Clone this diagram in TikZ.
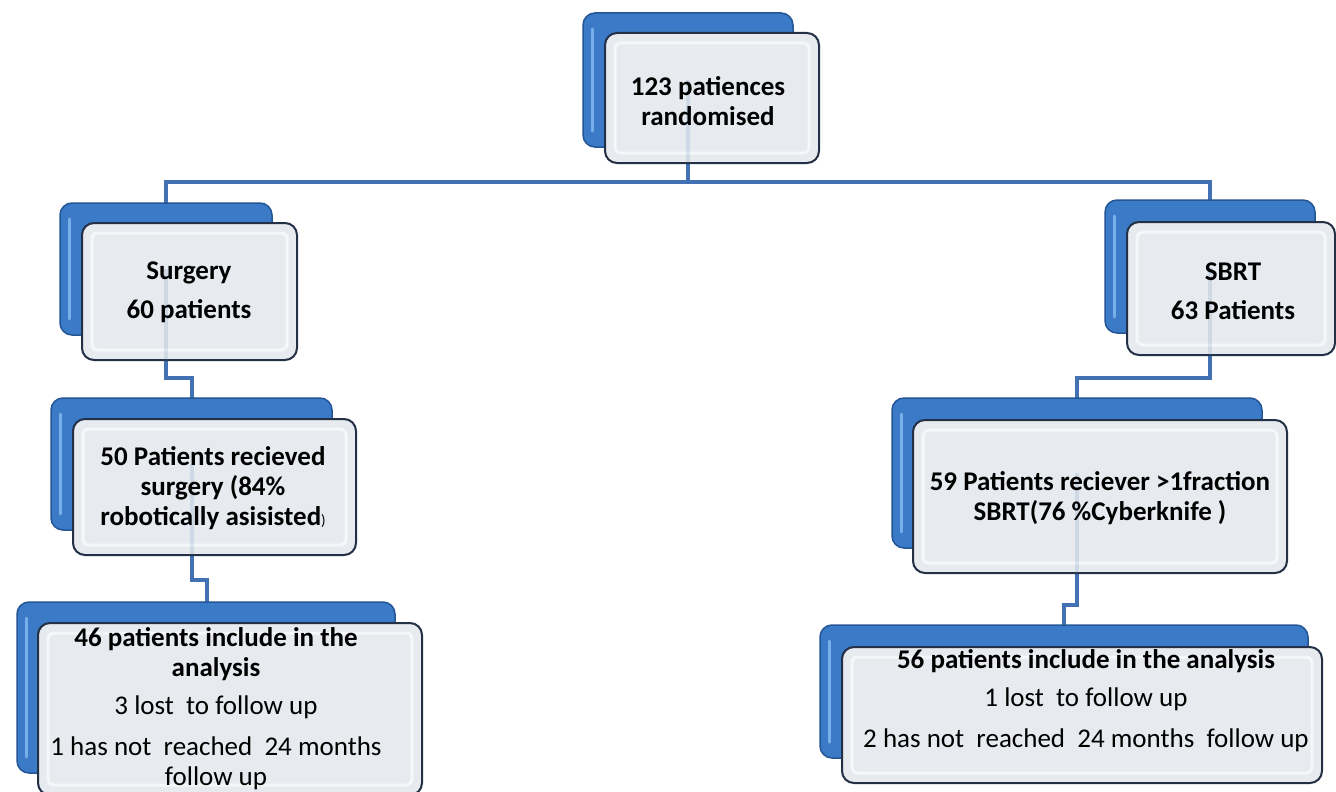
\documentclass[tikz,border=0pt]{standalone}
\usepackage{fontspec}
\setmainfont{Carlito}
\usetikzlibrary{calc}
\definecolor{bluefill}{RGB}{58,122,198}
\definecolor{blueedge}{RGB}{36,86,150}
\definecolor{bluelight}{RGB}{120,175,235}
\definecolor{frontfill}{RGB}{231,234,239}
\definecolor{frontedge}{RGB}{36,48,70}
\definecolor{bevel}{RGB}{246,247,249}
\definecolor{connclr}{RGB}{66,114,180}
\tikzset{
  backbox/.style={draw=blueedge, line width=1.5pt, fill=bluefill, rounded corners=12pt,
    inner sep=0pt,
    path picture={\draw[bluelight, line width=3pt, line cap=round]
      ([shift={(9pt,-16pt)}]path picture bounding box.north west) --
      ([shift={(9pt,16pt)}]path picture bounding box.south west);}},
  frontbox/.style={draw=frontedge, line width=2pt, fill=frontfill,
    rounded corners=12pt, inner sep=0pt,
    path picture={\draw[bevel, line width=3pt, rounded corners=6pt]
      ([shift={(10pt,-10pt)}]path picture bounding box.north west) rectangle
      ([shift={(-10pt,10pt)}]path picture bounding box.south east);}},
  conn/.style={connclr, line width=4pt},
  ghost/.style={conn, opacity=0.14},
  txt/.style={align=center, inner sep=0pt, text=black, font=\fontsize{27}{30}\selectfont},
  btxt/.style={txt, font=\fontsize{27}{30}\selectfont\bfseries},
}
\begin{document}
\begin{tikzpicture}[x=1pt, y=-1pt]
\useasboundingbox (0,0) rectangle (1336,792);
\fill[white] (0,0) rectangle (1336,792);

% junction coordinates
\coordinate (jTop) at (688,182);
\coordinate (jL1) at (192,378);
\coordinate (jL2) at (207,580);
\coordinate (jR1) at (1077,378);
\coordinate (jR2) at (1064,605);

% centres of the back boxes
\path (688,80) coordinate (pTopB);
\path (166,269) coordinate (pSurgB);
\path (191.5,464) coordinate (pS50B);
\path (206,687.5) coordinate (pS46B);
\path (1210,266.5) coordinate (pSbrtB);
\path (1077,473) coordinate (pR59B);
\path (1064,691.5) coordinate (pR56B);

% connectors
\draw[conn] (pTopB) -- (jTop);
\draw[conn] (pSurgB) |- (jTop) -| (pSbrtB);
\draw[conn] (pSurgB) |- (jL1) -- (jL1 |- pS50B);
\draw[conn] (pS50B) |- (jL2) -- (jL2 |- pS46B);
\draw[conn] (pSbrtB) |- (jR1) -- (jR1 |- pR59B);
\draw[conn] (pR59B) |- (jR2) -- (jR2 |- pR56B);

% boxes
\node[backbox, minimum width=210pt, minimum height=134pt] (topB) at (pTopB) {};
\node[frontbox, minimum width=214pt, minimum height=130pt] (topF) at (712,98) {};
\node[backbox, minimum width=212pt, minimum height=132pt] (surgB) at (pSurgB) {};
\node[frontbox, minimum width=215pt, minimum height=137pt] (surgF) at (189.5,291.5) {};
\node[backbox, minimum width=281pt, minimum height=132pt] (s50B) at (pS50B) {};
\node[frontbox, minimum width=283pt, minimum height=136pt] (s50F) at (214.5,487) {};
\node[backbox, minimum width=378pt, minimum height=171pt] (s46B) at (pS46B) {};
\node[frontbox, minimum width=384pt, minimum height=172pt] (s46F) at (230,709) {};
\node[backbox, minimum width=210pt, minimum height=133pt] (sbrtB) at (pSbrtB) {};
\node[frontbox, minimum width=208pt, minimum height=133pt] (sbrtF) at (1231,288.5) {};
\node[backbox, minimum width=370pt, minimum height=150pt] (r59B) at (pR59B) {};
\node[frontbox, minimum width=374pt, minimum height=153pt] (r59F) at (1100,496.5) {};
\node[backbox, minimum width=488pt, minimum height=133pt] (r56B) at (pR56B) {};
\node[frontbox, minimum width=480pt, minimum height=136pt] (r56F) at (1082,715) {};

% faint traces of the connectors seen through the front boxes
\draw[ghost] (pTopB) -- (jTop);
\draw[ghost] (pSurgB) |- (jL1);
\draw[ghost] (pS50B) |- (jL2);
\draw[ghost] (pSbrtB) |- (jR1);
\draw[ghost] (pR59B) |- (jR2);

% texts
\node[btxt] (topT) at (708,101) {123 patiences\\randomised};
\node[btxt] (surgT) at (189,292) {Surgery\\[9pt]60 patients};
\node[btxt] (s50T) at (213,488) {50 Patients recieved\\surgery (84\%\\robotically asisisted{\normalfont\fontsize{15}{15}\selectfont)}};
\node[txt] (s46T) at (216,709) {\textbf{46 patients include in the}\\\textbf{analysis}\\[8pt]3 lost\ \ to follow up\\[11pt]1 has not\ \ reached\ \ 24 months\\follow up};
\node[btxt] (sbrtT) at (1233,291) {SBRT\\[9pt]63 Patients};
\node[btxt] (r59T) at (1100,498) {59 Patients reciever >1fraction\\SBRT(76 \%Cyberknife )};
\node[txt] (r56T) at (1086,701) {\textbf{56 patients include in the analysis}\\[8pt]1 lost\ \ to follow up\\[11pt]2 has not\ \ reached\ \ 24 months\ \ follow up};
\end{tikzpicture}
\end{document}
